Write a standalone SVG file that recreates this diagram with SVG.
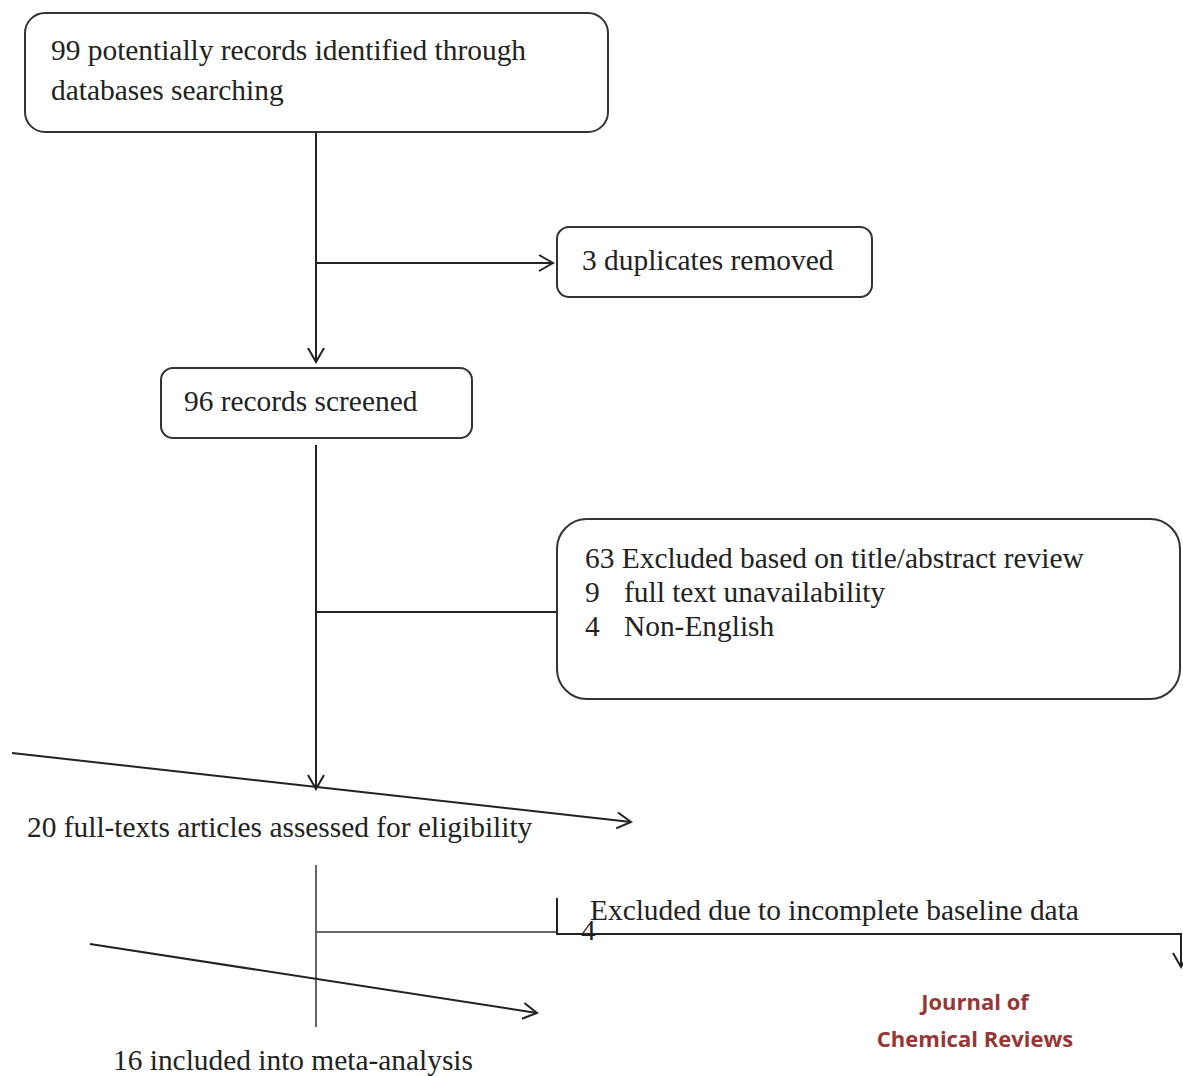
<svg xmlns="http://www.w3.org/2000/svg" width="1183" height="1076" viewBox="0 0 1183 1076">
<style>
.box{fill:#fff;stroke:#333;stroke-width:2}
.t{font-family:"Liberation Serif","Times New Roman",serif;font-size:29.4px;fill:#222}
.ln{stroke:#222;stroke-width:2;fill:none}
.gr{stroke:#666;stroke-width:2;fill:none}
.j{font-family:"Open Sans","Liberation Sans",sans-serif;font-weight:bold;font-size:22px;fill:#953735;text-anchor:middle}
</style>
<defs>
<marker id="a" viewBox="0 0 20 20" refX="18" refY="10" markerWidth="20" markerHeight="20" markerUnits="userSpaceOnUse" orient="auto">
<path d="M4,2 L18,10 L4,18" fill="none" stroke="#222" stroke-width="2"/>
</marker>
</defs>
<g id="connectors">
<line class="ln" x1="316" y1="132" x2="316" y2="362" marker-end="url(#a)"/>
<line class="ln" x1="316" y1="263" x2="553" y2="263" marker-end="url(#a)"/>
<line class="ln" x1="316" y1="445" x2="316" y2="789" marker-end="url(#a)"/>
<line class="ln" x1="316" y1="612" x2="557" y2="612"/>
<line class="ln" x1="12" y1="753" x2="631" y2="822" marker-end="url(#a)"/>
<line class="gr" x1="316" y1="865" x2="316" y2="1027"/>
<line class="gr" x1="316" y1="932" x2="557" y2="932"/>
<polyline class="ln" points="557,898 557,934 1181,934 1181,967" marker-end="url(#a)"/>
<line class="ln" x1="90" y1="944" x2="537" y2="1013" marker-end="url(#a)"/>
</g>
<g id="n1">
<rect class="box" x="25" y="13" width="583" height="119" rx="20"/>
<text class="t" x="51" y="60">99 potentially records identified through</text>
<text class="t" x="51" y="100">databases searching</text>
</g>
<g id="n2">
<rect class="box" x="557" y="227" width="315" height="70" rx="12"/>
<text class="t" x="582" y="270">3 duplicates removed</text>
</g>
<g id="n3">
<rect class="box" x="161" y="368" width="311" height="70" rx="12"/>
<text class="t" x="184" y="411">96 records screened</text>
</g>
<g id="n4">
<rect class="box" x="557" y="519" width="623" height="180" rx="30"/>
<text class="t" x="585" y="568">63 Excluded based on title/abstract review</text>
<text class="t" x="585" y="602">9</text>
<text class="t" x="624" y="602">full text unavailability</text>
<text class="t" x="585" y="636">4</text>
<text class="t" x="624" y="636">Non-English</text>
</g>
<g id="n5">
<text class="t" x="27" y="837">20 full-texts articles assessed for eligibility</text>
</g>
<g id="n6">
<text class="t" x="581" y="940">4</text>
<text class="t" x="590" y="920">Excluded due to incomplete baseline data</text>
</g>
<g id="n7">
<text class="t" x="113" y="1070">16 included into meta-analysis</text>
</g>
<g id="logo">
<text class="j" x="975" y="1010">Journal of</text>
<text class="j" x="975" y="1047">Chemical Reviews</text>
</g>
</svg>
